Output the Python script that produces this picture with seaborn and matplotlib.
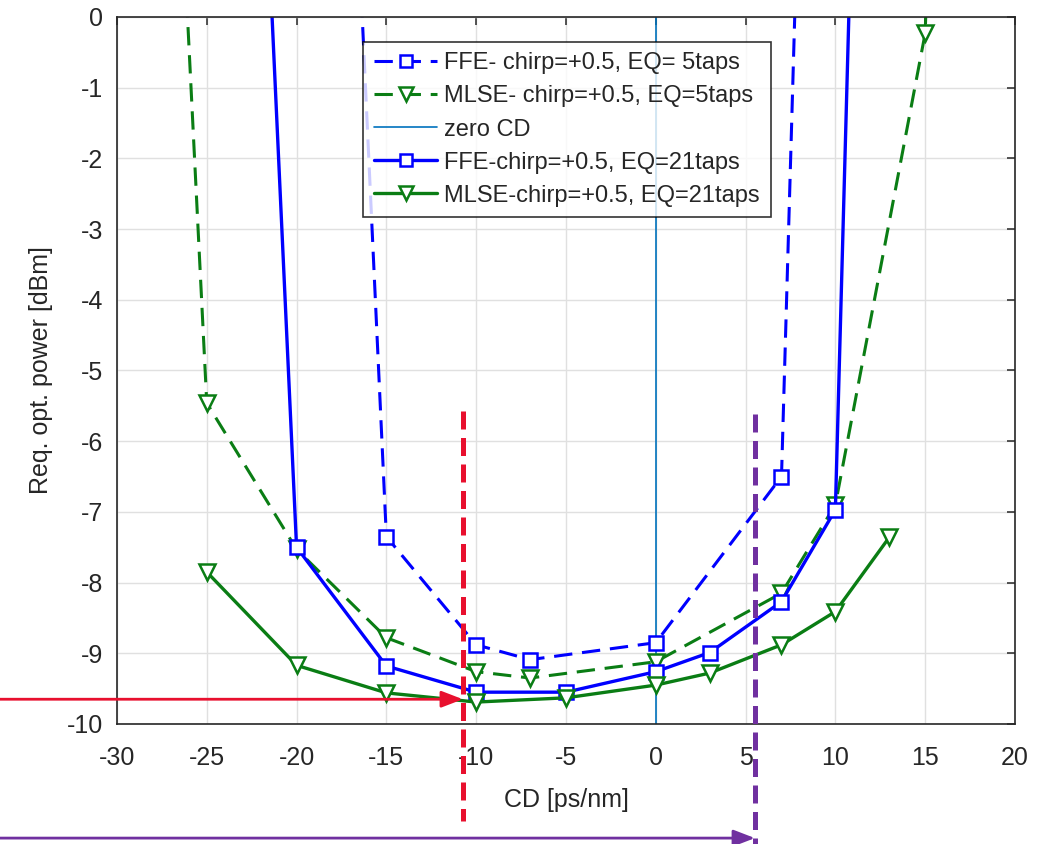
import numpy as np
import pandas as pd
import matplotlib
matplotlib.use("Agg")
import matplotlib.pyplot as plt
import seaborn as sns

# Data (values > 0 are off-chart and get clipped)
cd_ffe5 = [-20, -15, -10, -7, 0, 7, 10]
p_ffe5 = [20, -7.35, -8.88, -9.09, -8.85, -6.5, 20]

cd_mlse5 = [-30, -25, -20, -15, -10, -7, 0, 7, 10, 15, 20]
p_mlse5 = [20, -5.46, -7.53, -8.78, -9.26, -9.35, -9.12, -8.15, -6.9, -0.23, 40]

cd_ffe21 = [-25, -20, -15, -10, -5, 0, 3, 7, 10, 13]
p_ffe21 = [20, -7.5, -9.18, -9.55, -9.55, -9.26, -8.99, -8.27, -6.97, 21]

cd_mlse21 = [-25, -20, -15, -10, -5, 0, 3, 7, 10, 13]
p_mlse21 = [-7.85, -9.17, -9.56, -9.69, -9.63, -9.45, -9.28, -8.88, -8.41, -7.36]

zero_cd = 0
red_marker_cd = -10.74
purple_marker_cd = 5.52
red_arrow_level = -9.65

labels = [
    "FFE- chirp=+0.5, EQ= 5taps",
    "MLSE- chirp=+0.5, EQ=5taps",
    "zero CD",
    "FFE-chirp=+0.5, EQ=21taps",
    "MLSE-chirp=+0.5, EQ=21taps",
]

xticks = list(range(-30, 21, 5))
yticks = list(range(-10, 1, 1))

sns.set_style("white")
plt.rcParams["font.family"] = ["Liberation Sans", "DejaVu Sans"]
plt.rcParams["axes.unicode_minus"] = False

blue = "#0000FF"
green = "#0A7D14"
txt = "#262626"

fig = plt.figure(figsize=(10.48, 8.44), dpi=100)
ax = fig.add_axes([0.1116, 0.1422, 0.8569, 0.8377])

# Dashed 5-tap curves
sns.lineplot(x=cd_ffe5, y=p_ffe5, ax=ax, sort=False, color=blue, lw=2.2,
             dashes=False, linestyle=(0, (6, 3.2)), marker="s", markersize=10.5,
             markerfacecolor="white", markeredgecolor=blue, markeredgewidth=1.8,
             label=labels[0])
sns.lineplot(x=cd_mlse5, y=p_mlse5, ax=ax, sort=False, color=green, lw=2.2,
             dashes=False, linestyle=(0, (6, 3.2)), marker="v", markersize=12,
             markerfacecolor="white", markeredgecolor=green, markeredgewidth=1.8,
             label=labels[1])

# Zero CD reference line
ax.axvline(zero_cd, color="#0072BD", lw=1.2, label=labels[2], zorder=1)

# Solid 21-tap curves
sns.lineplot(x=cd_ffe21, y=p_ffe21, ax=ax, sort=False, color=blue, lw=2.4,
             marker="s", markersize=9.5, markerfacecolor="white",
             markeredgecolor=blue, markeredgewidth=1.8, label=labels[3])
sns.lineplot(x=cd_mlse21, y=p_mlse21, ax=ax, sort=False, color=green, lw=2.4,
             marker="v", markersize=11.5, markerfacecolor="white",
             markeredgecolor=green, markeredgewidth=1.8, label=labels[4])

ax.set_xlim(-30, 20)
ax.set_ylim(-10, 0)
ax.set_xticks(xticks)
ax.set_yticks(yticks)
ax.grid(True, color="#e0e0e0", lw=1.0)
ax.set_axisbelow(True)
for s in ax.spines.values():
    s.set_color(txt)
    s.set_linewidth(1.2)
ax.tick_params(direction="in", top=True, right=True, length=6, width=1.1,
               colors=txt, labelsize=18, labelcolor=txt)
ax.tick_params(axis="x", pad=16)
ax.tick_params(axis="y", pad=10)
ax.set_xlabel("CD [ps/nm]", fontsize=18, color=txt, labelpad=13)
ax.set_ylabel("Req. opt. power [dBm]", fontsize=18, color=txt, labelpad=10)

leg = ax.legend(loc="upper left", bbox_to_anchor=(0.274, 0.965), fontsize=17,
                frameon=True, fancybox=False, edgecolor="black",
                handlelength=2.7, handletextpad=0.3, borderpad=0.45,
                labelspacing=0.47, borderaxespad=0, markerscale=0.85)
leg.get_frame().set_linewidth(1.2)
for t in leg.get_texts():
    t.set_color(txt)

# Annotation overlays (red / purple markers)
red = "#E8102E"
purple = "#7030A0"
ax.plot([red_marker_cd, red_marker_cd], [-5.57, -11.37], color=red, lw=3.6,
        linestyle=(0, (3.6, 1.7)), clip_on=False, zorder=6)
ax.plot([purple_marker_cd, purple_marker_cd], [-5.62, -11.75], color=purple,
        lw=3.6, linestyle=(0, (3.6, 1.7)), clip_on=False, zorder=6)
ax.annotate("", xy=(red_marker_cd, red_arrow_level), xycoords="data",
            xytext=(0.0, red_arrow_level),
            textcoords=("figure fraction", "data"),
            arrowprops=dict(arrowstyle="-|>,head_length=1.3,head_width=0.5",
                            color=red, lw=2, shrinkA=0, shrinkB=0),
            annotation_clip=False, zorder=6)
ax.annotate("", xy=(purple_marker_cd, 0.007),
            xycoords=("data", "figure fraction"),
            xytext=(0.0, 0.007), textcoords="figure fraction",
            arrowprops=dict(arrowstyle="-|>,head_length=1.3,head_width=0.5",
                            color=purple, lw=2, shrinkA=0, shrinkB=0),
            annotation_clip=False, zorder=6)

fig.savefig("out.png", dpi=100)
